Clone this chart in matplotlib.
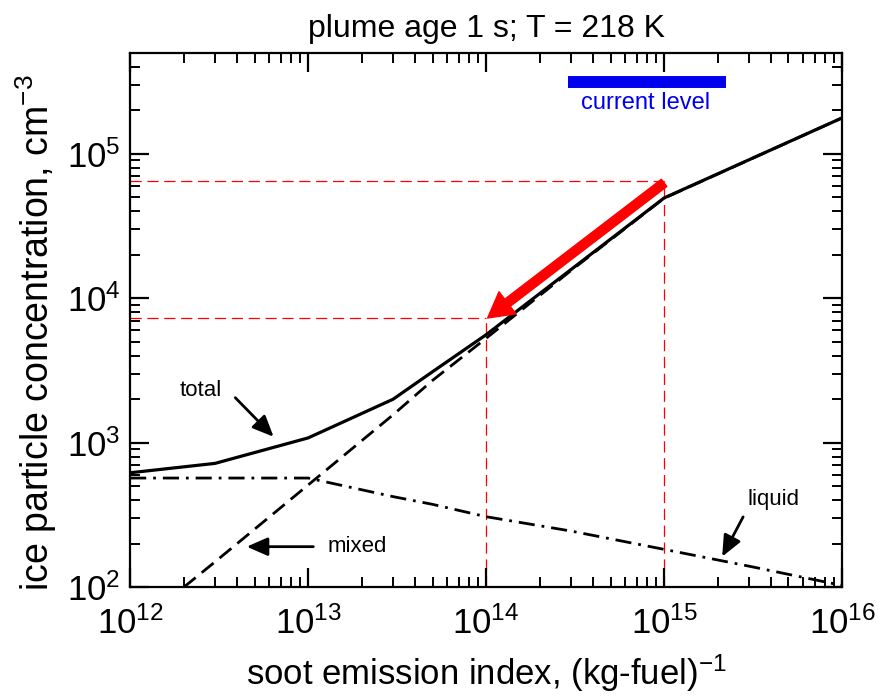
import numpy as np
import matplotlib.pyplot as plt
from matplotlib.patches import FancyArrowPatch

plt.rcParams["font.family"] = ["Liberation Sans", "DejaVu Sans"]
plt.rcParams["mathtext.fontset"] = "custom"
plt.rcParams["mathtext.rm"] = "Liberation Sans"
plt.rcParams["mathtext.it"] = "Liberation Sans:italic"
plt.rcParams["mathtext.bf"] = "Liberation Sans:bold"

# Soot emission index, (kg-fuel)^-1
soot_ei = [1e12, 3e12, 1e13, 3e13, 5e13, 1e14, 3e14, 1e15, 3e15, 1e16]

# Ice particle concentrations, cm^-3
n_total = [620, 720, 1080, 2000, 3100, 5590, 15800, 49400, 90800, 177000]
n_mixed = [50, 150, 510, 1560, 2700, 5280, 15550, 49200, 90650, 176900]
n_liquid = [570, 570, 570, 424, 375, 308, 245, 183, 140, 103]

# Reduction scenario: from 1e15 down to 1e14
ei_high, ei_low = 1e15, 1e14
n_high, n_low = 65100, 7300

# Present-day soot emission range
current_range = [2.9e14, 2.24e15]
current_y = 3.12e5

fig = plt.figure(figsize=(8.79, 6.97), dpi=100)
ax = fig.add_axes([0.148, 0.1574, 0.810, 0.767])

ax.plot(soot_ei, n_total, color="black", lw=2.3, solid_joinstyle="round")
ax.plot(soot_ei, n_mixed, color="black", lw=2.0, dashes=(5.5, 2.8))
ax.plot(soot_ei, n_liquid, color="black", lw=2.0, dashes=(5.8, 2.5, 1.0, 2.5))

# guide lines for the two emission levels
red_kw = dict(color="red", lw=0.9, dashes=(9, 4.5), zorder=1)
ax.plot([1e12, ei_high], [n_high, n_high], **red_kw)
ax.plot([ei_high, ei_high], [100, n_high], **red_kw)
ax.plot([1e12, ei_low], [n_low, n_low], **red_kw)
ax.plot([ei_low, ei_low], [100, n_low], **red_kw)

arrow = FancyArrowPatch((ei_high, 62800), (1.02e14, n_low),
                        arrowstyle="simple,head_length=18,head_width=20,tail_width=6.5",
                        mutation_scale=1, color="red", shrinkA=0, shrinkB=0, zorder=5)
ax.add_patch(arrow)

# current level bar
ax.plot(current_range, [current_y, current_y], color="#0000ee", lw=8.6,
        solid_capstyle="butt")
ax.text(7.9e14, 2.24e5, "current level", color="#0000ee", fontsize=17,
        ha="center", va="center")

# curve labels
ann_kw = dict(arrowstyle="-|>,head_length=0.8,head_width=0.35", color="black",
              lw=2.0, mutation_scale=16, shrinkA=0, shrinkB=0)
ax.text(2.5e12, 2290, "total", fontsize=16, ha="center", va="center")
ax.annotate("", xy=(6.4e12, 1100), xytext=(3.9e12, 2050), arrowprops=ann_kw)
ax.text(1.9e13, 192, "mixed", fontsize=16, ha="center", va="center")
ax.annotate("", xy=(4.52e12, 191), xytext=(1.07e13, 191), arrowprops=ann_kw)
ax.text(4.1e15, 408, "liquid", fontsize=16, ha="center", va="center")
ax.annotate("", xy=(2.12e15, 163), xytext=(2.78e15, 307), arrowprops=ann_kw)

ax.set_xscale("log")
ax.set_yscale("log")
ax.set_xlim(1e12, 1e16)
ax.set_ylim(1e2, 5e5)

ax.tick_params(which="both", direction="in", top=True, right=True, labelsize=25)
ax.tick_params(which="major", length=13.5, width=1.6)
ax.tick_params(axis="x", which="major", pad=14)
ax.tick_params(axis="y", which="major", pad=7)
ax.tick_params(which="minor", length=7, width=1.4)
for sp in ax.spines.values():
    sp.set_linewidth(1.6)

ax.set_title("plume age 1 s; T = 218 K", fontsize=23, pad=11)
ax.set_xlabel(r"soot emission index, (kg-fuel)$^{\mathregular{-1}}$", fontsize=25, labelpad=8)
ax.set_ylabel(r"ice particle concentration, cm$^{\mathregular{-3}}$", fontsize=27)
ax.yaxis.set_label_coords(-0.1, 0.476)

fig.savefig("out.png", dpi=100)
